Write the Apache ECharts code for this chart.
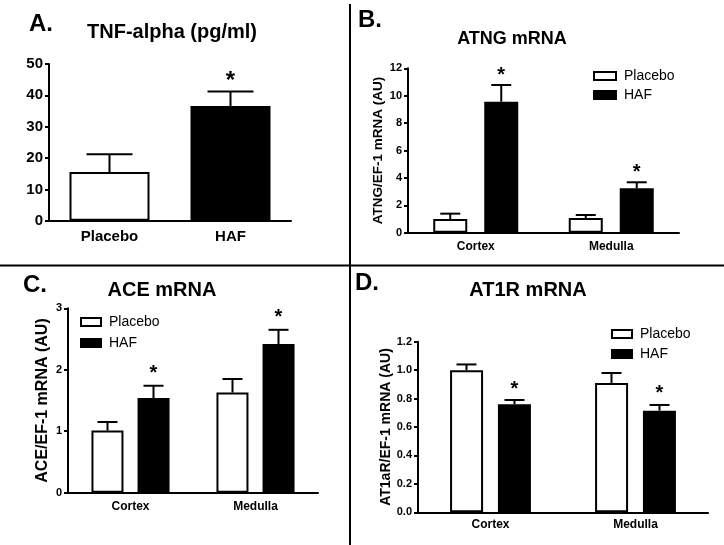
<!DOCTYPE html>
<html><head><meta charset="utf-8">
<script src="https://cdn.jsdelivr.net/npm/echarts@6/dist/echarts.min.js"></script>
<style>html,body{margin:0;padding:0;background:#fff}#c{width:724px;height:545px}</style>
</head><body><div id="c"></div>
<script>
// ---- data ----
const aCats = ['Placebo', 'HAF'];
const aVals = [15.5, 36.6];
const aErrs = [5.7, 4.6];
const aSig = [false, true];

const regionCats = ['Cortex', 'Medulla'];
const groups = ['Placebo', 'HAF'];

const bPlacebo = [1.0, 1.07];
const bPlaceboErr = [0.39, 0.22];
const bHAF = [9.56, 3.24];
const bHAFErr = [1.22, 0.44];
const bSig = [true, true];

const cPlacebo = [1.01, 1.63];
const cPlaceboErr = [0.14, 0.22];
const cHAF = [1.54, 2.42];
const cHAFErr = [0.2, 0.23];
const cSig = [true, true];

const dPlacebo = [1.0, 0.91];
const dPlaceboErr = [0.04, 0.07];
const dHAF = [0.76, 0.715];
const dHAFErr = [0.03, 0.04];
const dSig = [true, true];

const FONT = '"Liberation Sans", Arial, sans-serif';
const WHITE = {color: '#fff', borderColor: '#000', borderWidth: 2};
const BLACK = {color: '#000', borderColor: '#000', borderWidth: 2};

function errSeries(gi, vals, errs, sigs, offset, capW, starSize, starGap) {
  return {
    type: 'custom', xAxisIndex: gi, yAxisIndex: gi, z: 3, silent: true,
    data: vals.map((v, i) => [i, v, v + errs[i], sigs[i] ? 1 : 0]),
    renderItem: function (params, api) {
      const i = api.value(0);
      const p0 = api.coord([i, api.value(1)]);
      const p1 = api.coord([i, api.value(2)]);
      const x = p0[0] + offset;
      const ls = {stroke: '#000', lineWidth: 2};
      const ch = [
        {type: 'line', shape: {x1: x, y1: p0[1], x2: x, y2: p1[1]}, style: ls},
        {type: 'line', shape: {x1: x - capW / 2, y1: p1[1], x2: x + capW / 2, y2: p1[1]}, style: ls}
      ];
      if (api.value(3)) {
        ch.push({type: 'text', style: {text: '*', x: x, y: p1[1] - starGap, align: 'center', verticalAlign: 'middle',
          font: 'bold ' + starSize + 'px ' + FONT, fill: '#000'}});
      }
      return {type: 'group', children: ch};
    }
  };
}

function xAxis(gi, cats, fs, margin) {
  return {type: 'category', gridIndex: gi, data: cats,
    axisLine: {lineStyle: {color: '#000', width: 2}},
    axisTick: {alignWithLabel: true, length: 4, lineStyle: {color: '#000', width: 2}},
    axisLabel: {color: '#000', fontWeight: 'bold', fontSize: fs, fontFamily: FONT, margin: margin}};
}
function yAxis(gi, max, interval, fs, name, nameFs, nameGap, dec) {
  return {type: 'value', gridIndex: gi, min: 0, max: max, interval: interval,
    name: name, nameLocation: 'middle', nameGap: nameGap,
    nameTextStyle: {color: '#000', fontWeight: 'bold', fontSize: nameFs, fontFamily: FONT},
    axisLine: {show: true, lineStyle: {color: '#000', width: 2}},
    axisTick: {show: true, length: 4, lineStyle: {color: '#000', width: 2}},
    splitLine: {show: false},
    axisLabel: {color: '#000', fontWeight: 'bold', fontSize: fs, fontFamily: FONT, margin: 6,
      formatter: v => dec ? v.toFixed(dec) : String(v)}};
}
function title(text, x, y, fs) {
  return {text: text, left: x, top: y, textAlign: 'center', textVerticalAlign: 'middle', padding: 0,
    textStyle: {color: '#000', fontWeight: 'bold', fontSize: fs, fontFamily: FONT}};
}
function legend(x, y, gap, iw) {
  return {orient: 'vertical', left: x, top: y, itemWidth: iw, itemHeight: 8, itemGap: gap, padding: 0,
    icon: 'rect', selectedMode: false,
    textStyle: {color: '#000', fontSize: 14, fontFamily: FONT, padding: [0, 0, 0, 3]},
    data: [{name: 'Placebo', itemStyle: WHITE}, {name: 'HAF', itemStyle: BLACK}]};
}

const chart = echarts.init(document.getElementById('c'), null, {renderer: 'canvas'});
chart.setOption({
  animation: false,
  backgroundColor: '#fff',
  title: [
    title('A.', 41, 24, 24), title('TNF-alpha (pg/ml)', 172, 32, 20),
    title('B.', 370, 20, 24), title('ATNG mRNA', 512, 39, 18),
    title('C.', 35, 285, 24), title('ACE mRNA', 162, 290, 20),
    title('D.', 367, 283, 24), title('AT1R mRNA', 528, 290, 20)
  ],
  legend: [legend(593, 69, 5, 22), legend(80, 315, 7, 20), legend(611, 327, 6, 20)],
  grid: [
    {left: 49, top: 64, width: 242, height: 156.7},
    {left: 408, top: 68.3, width: 271, height: 164.4},
    {left: 68, top: 308.3, width: 250, height: 184.4},
    {left: 418, top: 341.7, width: 290, height: 170.6}
  ],
  xAxis: [xAxis(0, aCats, 15, 9), xAxis(1, regionCats, 12, 8), xAxis(2, regionCats, 12, 8), xAxis(3, regionCats, 12, 6)],
  yAxis: [
    yAxis(0, 50, 10, 15, '', 12, 20, 0),
    yAxis(1, 12, 2, 11, 'ATNG/EF-1 mRNA (AU)', 13.5, 23, 0),
    yAxis(2, 3, 1, 11, 'ACE/EF-1 mRNA (AU)', 16, 17, 0),
    yAxis(3, 1.2, 0.2, 11, 'AT1aR/EF-1 mRNA (AU)', 14, 23, 1)
  ],
  series: [
    {name: 'TNF', type: 'bar', xAxisIndex: 0, yAxisIndex: 0, barWidth: 80,
      data: [{value: aVals[0], itemStyle: WHITE}, {value: aVals[1], itemStyle: BLACK}]},
    errSeries(0, aVals, aErrs, aSig, 0, 46, 24, 10),

    {name: groups[0], type: 'bar', xAxisIndex: 1, yAxisIndex: 1, barWidth: 34, barGap: '50%', itemStyle: WHITE, data: bPlacebo},
    {name: groups[1], type: 'bar', xAxisIndex: 1, yAxisIndex: 1, barWidth: 34, barGap: '50%', itemStyle: BLACK, data: bHAF},
    errSeries(1, bPlacebo, bPlaceboErr, [false, false], -25.5, 20, 20, 10),
    errSeries(1, bHAF, bHAFErr, bSig, 25.5, 20, 20, 10),

    {name: groups[0], type: 'bar', xAxisIndex: 2, yAxisIndex: 2, barWidth: 32, barGap: '44%', itemStyle: WHITE, data: cPlacebo},
    {name: groups[1], type: 'bar', xAxisIndex: 2, yAxisIndex: 2, barWidth: 32, barGap: '44%', itemStyle: BLACK, data: cHAF},
    errSeries(2, cPlacebo, cPlaceboErr, [false, false], -23, 20, 20, 12),
    errSeries(2, cHAF, cHAFErr, cSig, 23, 20, 20, 12),

    {name: groups[0], type: 'bar', xAxisIndex: 3, yAxisIndex: 3, barWidth: 33, barGap: '45%', itemStyle: WHITE, data: dPlacebo},
    {name: groups[1], type: 'bar', xAxisIndex: 3, yAxisIndex: 3, barWidth: 33, barGap: '45%', itemStyle: BLACK, data: dHAF},
    errSeries(3, dPlacebo, dPlaceboErr, [false, false], -24, 20, 20, 11),
    errSeries(3, dHAF, dHAFErr, dSig, 24, 20, 20, 11)
  ],
  graphic: [
    {type: 'line', shape: {x1: 350, y1: 4, x2: 350, y2: 545}, style: {stroke: '#000', lineWidth: 2}},
    {type: 'line', shape: {x1: 0, y1: 265.5, x2: 724, y2: 265.5}, style: {stroke: '#000', lineWidth: 2}}
  ]
});
</script></body></html>
